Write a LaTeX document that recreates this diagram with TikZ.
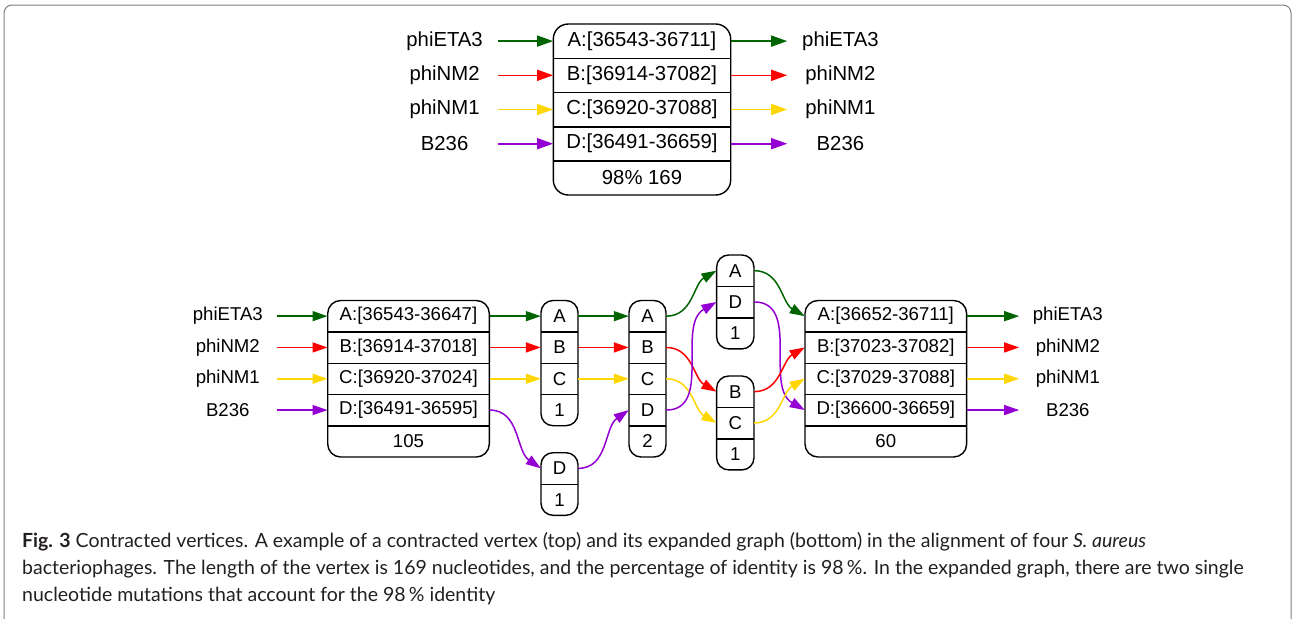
\documentclass[tikz,border=0pt]{standalone}
\usepackage{fontspec}
\setmainfont{Liberation Sans}
\newfontfamily\capfont{Lato}
\usetikzlibrary{positioning, arrows.meta}

\definecolor{colA}{RGB}{0,100,0}
\definecolor{colB}{RGB}{255,0,0}
\definecolor{colC}{RGB}{255,215,0}
\definecolor{colD}{RGB}{148,0,211}
\definecolor{capgray}{RGB}{35,31,32}

\tikzset{
	rec/.style={draw, line width=1.4pt, rounded corners=12pt, inner sep=0pt},
	cell/.style={inner sep=0pt, minimum height=31.3pt, font=\fontsize{18.6}{20}\selectfont},
	bigcell/.style={inner sep=0pt, minimum height=34.2pt, font=\fontsize{20.3}{22}\selectfont},
	sep/.style={line width=1.4pt},
	lab/.style={inner sep=0pt, minimum width=97pt, font=\fontsize{18.6}{20}\selectfont},
	biglab/.style={inner sep=0pt, minimum width=106pt, font=\fontsize{20.3}{22}\selectfont},
	seg/.style={line width=1.5pt, -{Triangle[length=15pt,width=10pt]}},
	bigseg/.style={line width=1.6pt, -{Triangle[length=16pt,width=11pt]}},
	capt/.style={inner sep=0pt, anchor=base west, text=capgray, font=\capfont\fontsize{19.5}{22}\selectfont}
}

\begin{document}
\begin{tikzpicture}
	\useasboundingbox (0,0) rectangle (1292pt,-619pt);
	\draw[gray, line width=1pt, rounded corners=8pt] (4pt,-619pt) -- (4pt,-5pt) -- (1291pt,-5pt) -- (1291pt,-619pt);

	% contracted vertex (top)
	\node[rec, rounded corners=15pt, minimum width=177.4pt, minimum height=171pt] (T) at (642pt,-109.5pt) {};
	\foreach \r/\t [count=\i] in {A/{A:[36543-36711]}, B/{B:[36914-37082]}, C/{C:[36920-37088]}, D/{D:[36491-36659]}, N/{98\% 169}}
		\node[bigcell, minimum width=177.4pt] (T\r) at (642pt,{-6.9pt-34.2pt*\i}) {\t};
	\foreach \r in {A,B,C,D}
		\draw[sep] (T\r.south west) -- (T\r.south east);

	\foreach \r/\n in {A/phiETA3, B/phiNM2, C/phiNM1, D/B236} {
		\node[biglab, left=55.3pt of T\r] (Tin\r) {\n};
		\node[biglab, right=56.3pt of T\r] (Tout\r) {\n};
		\path[bigseg, color=col\r] (Tin\r.east) edge (T\r.west)
			(T\r.east) edge (Tout\r.west);
	}

	% expanded graph (bottom)
	\node[rec, rounded corners=13pt, minimum width=161.6pt, minimum height=156.5pt] (L) at (408.5pt,-378.75pt) {};
	\foreach \r/\t [count=\i] in {A/{A:[36543-36647]}, B/{B:[36914-37018]}, C/{C:[36920-37024]}, D/{D:[36491-36595]}, N/105}
		\node[cell, minimum width=161.6pt] (L\r) at (408.5pt,{-284.85pt-31.3pt*\i}) {\t};
	\foreach \r in {A,B,C,D}
		\draw[sep] (L\r.south west) -- (L\r.south east);

	\node[rec, minimum width=37pt, minimum height=125.2pt] (P) at (559.5pt,-363.1pt) {};
	\foreach \r/\t [count=\i] in {A/A, B/B, C/C, N/1}
		\node[cell, minimum width=37pt] (P\r) at (559.5pt,{-284.85pt-31.3pt*\i}) {\t};
	\foreach \r in {A,B,C}
		\draw[sep] (P\r.south west) -- (P\r.south east);

	\node[rec, minimum width=37pt, minimum height=62.6pt] (Q) at (559.5pt,-484pt) {};
	\foreach \r/\t [count=\i] in {D/D, N/1}
		\node[cell, minimum width=37pt] (Q\r) at (559.5pt,{-437.05pt-31.3pt*\i}) {\t};
	\draw[sep] (QD.south west) -- (QD.south east);

	\node[rec, minimum width=37pt, minimum height=156.5pt] (S) at (647.5pt,-378.75pt) {};
	\foreach \r/\t [count=\i] in {A/A, B/B, C/C, D/D, N/2}
		\node[cell, minimum width=37pt] (S\r) at (647.5pt,{-284.85pt-31.3pt*\i}) {\t};
	\foreach \r in {A,B,C,D}
		\draw[sep] (S\r.south west) -- (S\r.south east);

	\node[rec, minimum width=37.3pt, minimum height=93.9pt] (U) at (735.3pt,-301.95pt) {};
	\foreach \r/\t [count=\i] in {A/A, D/D, N/1}
		\node[cell, minimum width=37.3pt] (U\r) at (735.3pt,{-239.35pt-31.3pt*\i}) {\t};
	\foreach \r in {A,D}
		\draw[sep] (U\r.south west) -- (U\r.south east);

	\node[rec, minimum width=37.3pt, minimum height=93.9pt] (V) at (735.3pt,-422.95pt) {};
	\foreach \r/\t [count=\i] in {B/B, C/C, N/1}
		\node[cell, minimum width=37.3pt] (V\r) at (735.3pt,{-360.35pt-31.3pt*\i}) {\t};
	\foreach \r in {B,C}
		\draw[sep] (V\r.south west) -- (V\r.south east);

	\node[rec, rounded corners=13pt, minimum width=161.7pt, minimum height=156.5pt] (R) at (885.8pt,-378.75pt) {};
	\foreach \r/\t [count=\i] in {A/{A:[36652-36711]}, B/{B:[37023-37082]}, C/{C:[37029-37088]}, D/{D:[36600-36659]}, N/60}
		\node[cell, minimum width=161.7pt] (R\r) at (885.8pt,{-284.85pt-31.3pt*\i}) {\t};
	\foreach \r in {A,B,C,D}
		\draw[sep] (R\r.south west) -- (R\r.south east);

	\foreach \r/\n in {A/phiETA3, B/phiNM2, C/phiNM1, D/B236} {
		\node[lab, left=51pt of L\r] (Lin\r) {\n};
		\node[lab, right=52.3pt of R\r] (Rout\r) {\n};
		\path[seg, color=col\r] (Lin\r.east) edge (L\r.west)
			(R\r.east) edge (Rout\r.west);
	}

	\path[seg]
	(LA.east) edge[colA] (PA.west)
	(LB.east) edge[colB] (PB.west)
	(LC.east) edge[colC] (PC.west)
	(LD.east) edge[colD, out=0, in=145] (QD.west)
	(PA.east) edge[colA] (SA.west)
	(PB.east) edge[colB] (SB.west)
	(PC.east) edge[colC] (SC.west)
	(QD.east) edge[colD, out=0, in=215] (SD.west)
	(SA.east) edge[colA, out=0, in=210] (UA.west)
	(SB.east) edge[colB, out=0, in=150] (VB.west)
	(SC.east) edge[colC, out=0, in=150] (VC.west)
	(SD.east) edge[colD, out=0, in=210] (UD.west)
	(UA.east) edge[colA, out=0, in=150] (RA.west)
	(UD.east) edge[colD, out=0, in=150] (RD.west)
	(VB.east) edge[colB, out=0, in=210] (RB.west)
	(VC.east) edge[colC, out=0, in=210] (RC.west);

	% caption
	\node[capt] (cap1) at (22pt,-547pt) {\textbf{Fig. 3} Contracted vertices. A example of a contracted vertex (top) and its expanded graph (bottom) in the alignment of four \textit{S. aureus}};
	\node[capt] (cap2) at (22pt,-574pt) {bacteriophages. The length of the vertex is 169 nucleotides, and the percentage of identity is 98\,\%. In the expanded graph, there are two single};
	\node[capt] (cap3) at (22pt,-601pt) {nucleotide mutations that account for the 98\,\% identity};
\end{tikzpicture}
\end{document}
